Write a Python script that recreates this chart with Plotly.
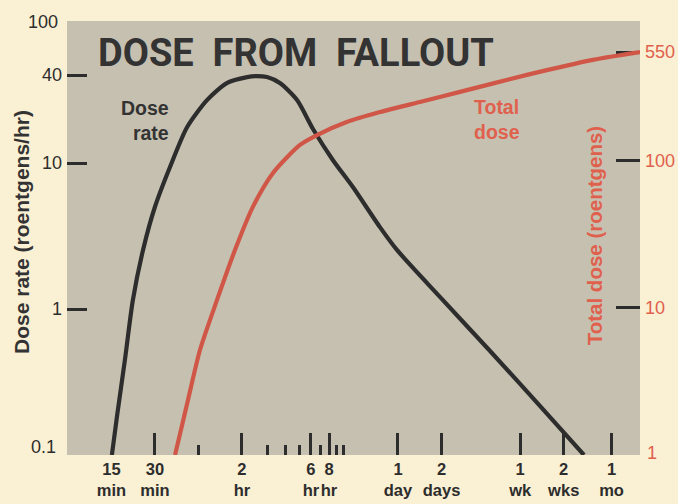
import plotly.graph_objects as go

# Time after detonation, in hours, and dose rate (roentgens per hour)
rate_hours = [0.252, 0.273, 0.31, 0.352, 0.414, 0.5, 0.636, 0.834, 1.146, 1.57,
              2.17, 2.54, 2.98, 3.66, 4.81, 6.2, 8.5, 11.7, 18.0, 23.6, 46.8,
              104, 230, 464]
rate_values = [0.1, 0.182, 0.447, 1.15, 2.54, 5.0, 9.4, 17.6, 27.0, 35.3,
               38.8, 39.4, 38.8, 35.3, 27.0, 17.1, 10.5, 6.85, 3.64, 2.54, 1.21,
               0.516, 0.217, 0.1]

# Accumulated total dose (roentgens)
total_hours = [0.689, 0.847, 1.025, 1.343, 1.79, 2.38, 3.28, 5.04, 6.61, 10.6,
               18.0, 34.0, 64.4, 187, 535, 1132]
total_values = [1.0, 2.37, 5.18, 11.3, 24.8, 48.7, 82.9, 128.5, 150, 184,
                215, 252, 295, 385, 487, 550]

# Time axis labels (hours); the 15-minute mark carries a label only
time_major = [0.5, 2, 6, 8, 24, 48, 168, 336, 720]
time_major_text = ["30<br>min", "2<br>hr", "6<br>hr", "8<br>hr",
                   "1<br>day", "2<br>days", "1<br>wk", "2<br>wks", "1<br>mo"]
time_label_only = [0.25]
time_label_only_text = ["15<br>min"]
time_minor = [1, 3, 4, 5, 7, 9, 10]

rate_ticks = [1, 10, 40]
total_ticks = [10, 100, 550]

PAGE = "#FAF0D3"
PANEL = "#C6C0B0"
INK = "#2D2D2D"
RED = "#D05747"
RED_TEXT = "#E0604E"
FONT = "Liberation Sans, Arial, sans-serif"
X_RANGE = [-0.909, 3.054]
TIME_FONT = dict(family=FONT, size=16.5, color=INK, weight="bold")

fig = go.Figure()

fig.add_trace(go.Scatter(
    x=rate_hours, y=rate_values, mode="lines",
    line=dict(color=INK, width=4.2, shape="spline", smoothing=0.7),
    cliponaxis=True, showlegend=False, hoverinfo="skip"))

fig.add_trace(go.Scatter(
    x=total_hours, y=total_values, mode="lines", yaxis="y2",
    line=dict(color=RED, width=4.2, shape="spline", smoothing=0.7),
    cliponaxis=True, showlegend=False, hoverinfo="skip"))

# empty trace that anchors the label-only time axis
fig.add_trace(go.Scatter(x=[], y=[], xaxis="x2", mode="lines",
                         showlegend=False, hoverinfo="skip"))

fig.update_layout(
    width=678, height=504,
    margin=dict(l=67, r=38, t=21, b=49),
    paper_bgcolor=PAGE, plot_bgcolor=PANEL,
    font=dict(family=FONT, color=INK),
    xaxis=dict(
        type="log", range=X_RANGE, automargin=False,
        tickmode="array", tickvals=time_major, ticktext=time_major_text,
        tickangle=0,
        ticks="inside", ticklen=22, tickwidth=2.5, tickcolor=INK,
        tickfont=TIME_FONT, ticklabelstandoff=2,
        minor=dict(tickmode="array", tickvals=time_minor, ticks="inside",
                   ticklen=10, tickwidth=2.5, tickcolor=INK, showgrid=False),
        showgrid=False, zeroline=False, showline=False, layer="below traces"),
    xaxis2=dict(
        type="log", range=X_RANGE, automargin=False,
        overlaying="x", anchor="y", side="bottom",
        tickmode="array", tickvals=time_label_only, ticktext=time_label_only_text,
        tickangle=0, ticks="inside", ticklen=0, tickwidth=0,
        tickfont=TIME_FONT, ticklabelstandoff=2,
        showgrid=False, zeroline=False, showline=False),
    yaxis=dict(
        type="log", range=[-1.0, 1.973], automargin=False,
        tickmode="array", tickvals=rate_ticks, ticktext=["1", "10", "40"],
        ticks="inside", ticklen=20, tickwidth=2.5, tickcolor=INK,
        tickfont=dict(family=FONT, size=18, color=INK),
        ticklabelstandoff=4,
        showgrid=False, zeroline=False, showline=False, layer="below traces"),
    yaxis2=dict(
        type="log", range=[0, 2.952], overlaying="y", side="right",
        automargin=False,
        tickmode="array", tickvals=total_ticks, ticktext=["10", "100", "550"],
        ticks="inside", ticklen=24, tickwidth=2.5, tickcolor=INK,
        tickfont=dict(family=FONT, size=18, color=RED_TEXT),
        ticklabelstandoff=4,
        showgrid=False, zeroline=False, showline=False, layer="below traces"),
)

annotations = [
    dict(text="DOSE\u00a0\u00a0FROM\u00a0\u00a0FALLOUT", x=0.3997, y=0.926,
         xanchor="center", yanchor="middle",
         font=dict(family="Roboto, " + FONT, size=38, color="#333333", weight="bold")),
    dict(text="Dose<br>rate", x=0.1815, y=0.77, xanchor="right", yanchor="middle",
         align="right", font=dict(family=FONT, size=19.5, color="#333333", weight="bold")),
    dict(text="Total<br>dose", x=0.7068, y=0.772, xanchor="left", yanchor="middle",
         align="left", font=dict(family=FONT, size=19.5, color=RED_TEXT, weight="bold")),
    dict(text="Dose rate (roentgens/hr)", x=-0.0785, y=0.514, textangle=-90,
         xanchor="center", yanchor="middle",
         font=dict(family=FONT, size=21, color="#333333", weight="bold")),
    dict(text="Total dose (roentgens)", x=0.9205, y=0.505, textangle=-90,
         xanchor="center", yanchor="middle",
         font=dict(family=FONT, size=20.5, color=RED_TEXT, weight="bold")),
    dict(text="100", x=-0.0122, y=0.9977, xanchor="right", yanchor="middle",
         font=dict(family=FONT, size=18, color=INK)),
    dict(text="0.1", x=-0.0155, y=0.0184, xanchor="right", yanchor="middle",
         font=dict(family=FONT, size=18, color=INK)),
    dict(text="1", x=1.0087, y=0.0046, xanchor="left", yanchor="middle",
         font=dict(family=FONT, size=18, color=RED_TEXT)),
]
for a in annotations:
    a.update(xref="paper", yref="paper", showarrow=False)
fig.update_layout(annotations=annotations)

fig.write_html("out.html", config={"displayModeBar": False})
